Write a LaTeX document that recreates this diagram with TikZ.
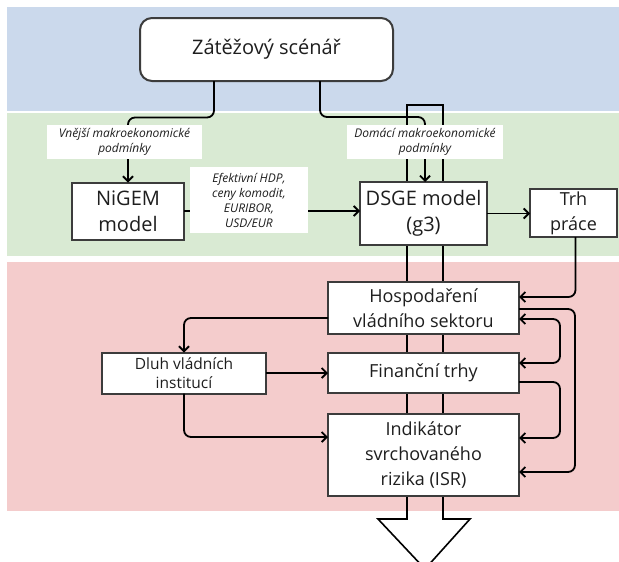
\documentclass[tikz,border=0pt]{standalone}
\usepackage{fontspec}
\setmainfont{Open Sans}
\usetikzlibrary{arrows.meta,calc}
\definecolor{bandblue}{HTML}{CBD9EC}
\definecolor{bandgreen}{HTML}{D9EAD3}
\definecolor{bandpink}{HTML}{F4CCCC}
\definecolor{boxline}{HTML}{3C3C3C}
\definecolor{txt}{HTML}{1E1E1E}
\begin{document}
\begin{tikzpicture}[x=1pt,y=-1pt,
  box/.style={draw=boxline,line width=2pt,fill=white,inner sep=0pt,outer sep=0pt,align=center,text=txt},
  bigtxt/.style={font=\fontsize{20}{26}\selectfont},
  midtxt/.style={font=\fontsize{18}{25}\selectfont},
  smalltxt/.style={font=\fontsize{15.5}{18.5}\selectfont},
  lbl/.style={fill=white,inner sep=0pt,outer sep=0pt,align=center,text=txt,font=\fontsize{12}{15}\selectfont\itshape},
  conn/.style={line width=1.8pt,rounded corners=7pt},
  arr/.style={conn,-{Straight Barb[length=5pt,width=10pt]}},
  arrboth/.style={conn,{Straight Barb[length=5pt,width=10pt]}-{Straight Barb[length=5pt,width=10pt]}}]
\useasboundingbox (0,0) rectangle (619,562);
\clip (0,0) rectangle (619,562);
\fill[white] (0,0) rectangle (619,562);
% bands
\fill[bandblue] (7,7) rectangle (619,111);
\fill[bandgreen] (7,113) rectangle (619,256);
\fill[bandpink] (7,262) rectangle (619,511);
% big hollow arrow
\draw[line width=1.6pt,line join=miter] (378,519) -- (407,519) -- (407,105) -- (443,105) -- (443,519) -- (470,519) -- (425,569) -- cycle;
% boxes
\node[box,bigtxt,rounded corners=12pt,minimum width=253pt,minimum height=63pt] (top) at (266.5,49.5) {Zátěžový scénář};
\node[box,bigtxt,minimum width=112pt,minimum height=57pt] (nigem) at (128,211) {NiGEM\\model};
\node[box,bigtxt,minimum width=127pt,minimum height=63pt] (dsge) at (423.5,213.5) {DSGE model\\(g3)};
\node[box,midtxt,minimum width=87pt,minimum height=48pt] (trh) at (573.5,213) {Trh\\práce};
\node[box,midtxt,minimum width=191pt,minimum height=52pt] (hosp) at (423.5,308) {Hospodaření\\vládního sektoru};
\node[box,midtxt,minimum width=191pt,minimum height=40pt] (fin) at (423.5,373) {Finanční trhy};
\node[box,midtxt,minimum width=191pt,minimum height=82pt] (isr) at (423.5,455) {Indikátor\\svrchovaného\\rizika (ISR)};
\node[box,smalltxt,minimum width=164pt,minimum height=41pt] (dluh) at (184,373) {Dluh vládních\\institucí};
% connectors
\draw[arr] ($(top.south west)+(74,0)$) |- ($(nigem.north)+(0,-65)$) -- (nigem.north);
\draw[arr] ($(top.south west)+(180,0)$) |- ($(dsge.north)+(1.5,-65)$) -- ($(dsge.north)+(1.5,0)$);
\draw[arr] (nigem.east) -- (nigem.east -| dsge.west);
\draw[arr] (dsge.east) -- (dsge.east -| trh.west);
\draw[arr] ($(trh.south)+(2,0)$) |- ($(hosp.east)+(0,-11)$);
\draw[arr] ($(hosp.east)+(0,1)$) -- ++(56,0) |- ($(isr.east)+(0,17)$);
\draw[arrboth] ($(hosp.east)+(0,11)$) -- ++(41,0) |- ($(fin.east)+(0,-10)$);
\draw[arr] ($(fin.east)+(0,9)$) -- ++(41,0) |- ($(isr.east)+(0,-17)$);
\draw[arr] ($(hosp.west)+(0,10)$) -| (dluh.north);
\draw[arr] (dluh.east) -- (dluh.east -| fin.west);
\draw[arr] (dluh.south) |- ($(isr.west)+(0,-18)$);
% labels
\node[lbl,minimum width=155pt,minimum height=34pt] (lv) at (124.5,142) {Vnější makroekonomické\\podmínky};
\node[lbl,minimum width=156pt,minimum height=34pt] (ld) at (425,142) {Domácí makroekonomické\\podmínky};
\node[lbl,minimum width=118pt,minimum height=66pt] (le) at (249,200) {Efektivní HDP,\\ceny komodit,\\EURIBOR,\\USD/EUR};
\end{tikzpicture}
\end{document}
